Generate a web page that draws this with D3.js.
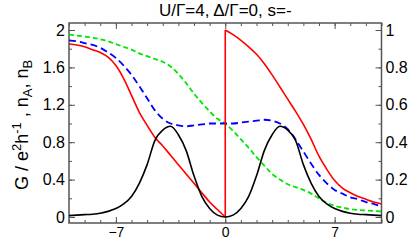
<!DOCTYPE html>
<html>
<head>
<meta charset="utf-8">
<script src="https://cdn.jsdelivr.net/npm/d3@7"></script>
<style>
  body { margin: 0; background: #fff; }
  svg { display: block; }
  text { font-family: "Liberation Sans", Arial, sans-serif; fill: #000; }
</style>
</head>
<body>
<div id="chart"></div>
<script>
// x grid shared by all series (step 0.5)
var xs = d3.range(-10, 10.01, 0.5);

// black: G (left axis)
var black = [0.015,0.02,0.025,0.03,0.04,0.06,0.09,0.14,0.22,0.36,0.56,0.82,0.93,0.97,0.88,0.71,0.44,0.22,0.09,0.02,0.0,
             0.02,0.09,0.22,0.44,0.71,0.88,0.97,0.93,0.82,0.56,0.36,0.22,0.14,0.09,0.06,0.04,0.03,0.025,0.02,0.015];
// green dashed
var green = [1.95,1.94,1.93,1.92,1.90,1.88,1.85,1.82,1.79,1.75,1.72,1.69,1.66,1.61,1.53,1.43,1.32,1.22,1.13,1.05,1.00,
             0.92,0.83,0.74,0.64,0.55,0.46,0.40,0.35,0.32,0.29,0.25,0.20,0.15,0.12,0.10,0.085,0.075,0.07,0.065,0.06];
// blue dashed
var blue = [1.89,1.88,1.86,1.84,1.81,1.76,1.70,1.62,1.52,1.40,1.27,1.14,1.05,1.00,0.98,0.97,0.98,0.99,1.00,1.00,1.00,
            1.00,1.01,1.02,1.03,1.04,1.03,1.00,0.94,0.83,0.70,0.57,0.45,0.36,0.29,0.25,0.21,0.19,0.16,0.14,0.11];
// red: left branch x = -10..0, right branch x = 0..10 (jump at 0)
var redLeft = [1.85,1.84,1.82,1.79,1.76,1.71,1.62,1.48,1.30,1.12,0.98,0.85,0.76,0.66,0.56,0.46,0.36,0.26,0.16,0.08,0.0];
var redRight = [2.00,1.95,1.89,1.82,1.74,1.64,1.52,1.39,1.26,1.13,0.99,0.83,0.65,0.51,0.39,0.31,0.26,0.22,0.19,0.16,0.14];

var xMajor = [-7, 0, 7],
    xMinor = d3.range(-10, 11, 1),
    yLeftMajor = [0, 0.4, 0.8, 1.2, 1.6, 2],
    yLeftMinor = d3.range(0, 2.01, 0.2),
    yRightMajor = [0, 0.2, 0.4, 0.6, 0.8, 1],
    yRightMinor = d3.range(0, 1.01, 0.1);

var W = 411, H = 240,
    box = {left: 69, right: 381.5, top: 23, bottom: 223};

var svg = d3.select('#chart').append('svg')
    .attr('width', W).attr('height', H);

var x = d3.scaleLinear().domain([-10, 10]).range([box.left, box.right]),
    y = d3.scaleLinear().domain([0, 2]).range([217, 30]),
    y2 = d3.scaleLinear().domain([0, 1]).range([217, 30]);

var axisColor = '#555';

function drawAxis(make, scale, tx, ty, major, minor, showLabels, fmt) {
  var gMinor = svg.append('g').attr('transform', 'translate(' + tx + ',' + ty + ')')
      .call(make(scale).tickValues(minor).tickSize(-3).tickFormat(''));
  var gMajor = svg.append('g').attr('transform', 'translate(' + tx + ',' + ty + ')')
      .call(make(scale).tickValues(major).tickSize(-6).tickPadding(4)
            .tickFormat(showLabels ? fmt : ''));
  [gMinor, gMajor].forEach(function(g){
    g.select('.domain').remove();
    g.selectAll('line').attr('stroke', axisColor).attr('stroke-width', 1);
    g.selectAll('text').style('font-family', '"Liberation Sans", Arial, sans-serif')
      .attr('font-size', 16).attr('fill', '#000');
  });
  return gMajor;
}

var fmt = function(d){ return d3.format('~g')(d); };

var gb = drawAxis(d3.axisBottom, x, 0, box.bottom, xMajor, xMinor, true, fmt);
gb.selectAll('text').attr('font-size', 14).attr('dy', 0).attr('y', 14);
drawAxis(d3.axisTop, x, 0, box.top, xMajor, xMinor, false, fmt);
drawAxis(d3.axisLeft, y, box.left, 0, yLeftMajor, yLeftMinor, true, fmt);
drawAxis(d3.axisRight, y2, box.right, 0, yRightMajor, yRightMinor, true, fmt);

// frame
svg.append('rect')
  .attr('x', box.left).attr('y', box.top)
  .attr('width', box.right - box.left).attr('height', box.bottom - box.top)
  .attr('fill', 'none').attr('stroke', axisColor).attr('stroke-width', 1.5);

var line = d3.line()
    .x(function(d){ return x(d[0]); })
    .y(function(d){ return y(d[1]); })
    .curve(d3.curveMonotoneX);

function pts(xv, yv){ return yv.map(function(v, i){ return [xv[i], v]; }); }

var plot = svg.append('g');

plot.append('path').datum(pts(xs, green))
  .attr('d', line).attr('fill', 'none').attr('stroke', '#00e600')
  .attr('stroke-width', 1.8).attr('stroke-dasharray', '5,3');

plot.append('path').datum(pts(xs, blue))
  .attr('d', line).attr('fill', 'none').attr('stroke', '#0000ff')
  .attr('stroke-width', 1.8).attr('stroke-dasharray', '7,4');

var xl = xs.slice(0, 21), xr = xs.slice(20);
plot.append('path').datum(pts(xl, redLeft))
  .attr('d', line).attr('fill', 'none').attr('stroke', '#ff0000').attr('stroke-width', 1.6);
plot.append('path').datum([[0, redLeft[redLeft.length - 1]], [0, redRight[0]]])
  .attr('d', d3.line().x(function(d){ return x(d[0]); }).y(function(d){ return y(d[1]); }))
  .attr('fill', 'none').attr('stroke', '#ff0000').attr('stroke-width', 1.6);
plot.append('path').datum(pts(xr, redRight))
  .attr('d', line).attr('fill', 'none').attr('stroke', '#ff0000').attr('stroke-width', 1.6);

plot.append('path').datum(pts(xs, black))
  .attr('d', line).attr('fill', 'none').attr('stroke', '#000')
  .attr('stroke-width', 1.6);

// title
svg.append('text')
  .attr('x', (box.left + box.right) / 2).attr('y', 16)
  .attr('text-anchor', 'middle').attr('font-size', 17)
  .text('U/\u0393=4, \u0394/\u0393=0, s=-');

// y label
var yl = svg.append('text')
  .attr('transform', 'translate(28,' + ((box.top + box.bottom) / 2 + 2) + ') rotate(-90)')
  .attr('text-anchor', 'middle').attr('font-size', 18);
yl.append('tspan').text('G / e');
yl.append('tspan').attr('dy', -7).attr('font-size', 13).text('2');
yl.append('tspan').attr('dy', 7).text('h');
yl.append('tspan').attr('dy', -7).attr('font-size', 13).text('-1');
yl.append('tspan').attr('dy', 7).text(' , n');
yl.append('tspan').attr('dy', 4).attr('font-size', 13).text('A');
yl.append('tspan').attr('dy', -4).text(', n');
yl.append('tspan').attr('dy', 4).attr('font-size', 13).text('B');
</script>
</body>
</html>
